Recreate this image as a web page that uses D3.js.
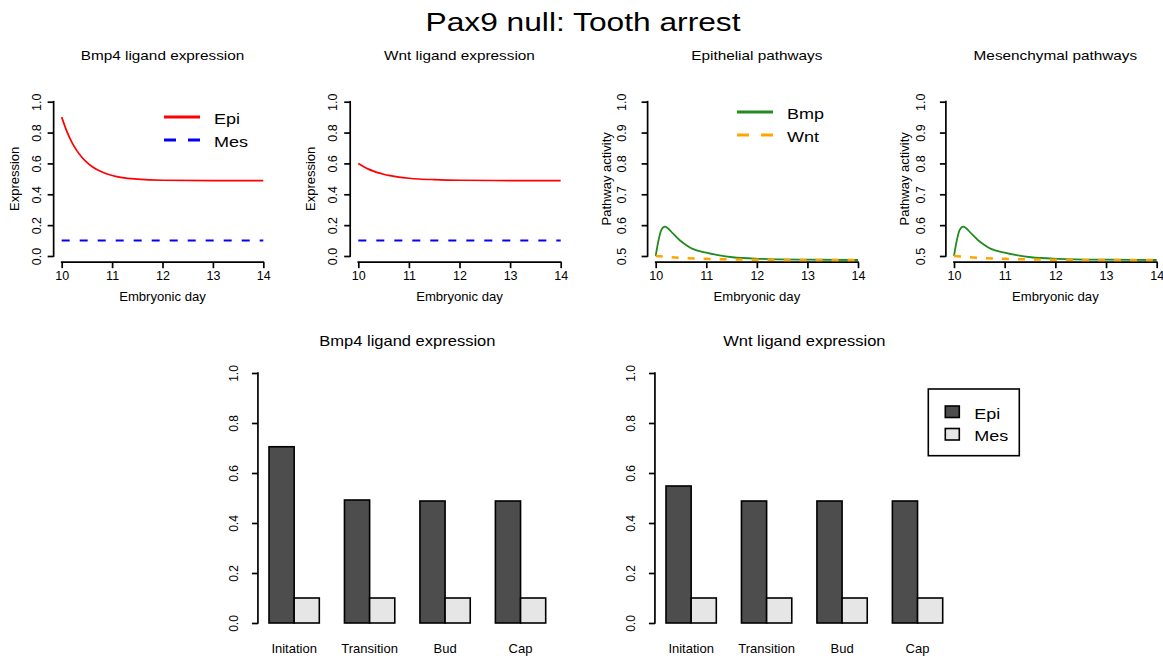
<!DOCTYPE html>
<html>
<head>
<meta charset="utf-8">
<script src="https://cdn.jsdelivr.net/npm/d3@7"></script>
<style>
  body { margin: 0; background: #fff; }
  svg { display: block; }
  text { font-family: "Liberation Sans", Arial, Helvetica, sans-serif; fill: #000; }
</style>
</head>
<body>
<svg id="fig" width="1163" height="658"></svg>
<script>
// ---- Ligand expression over embryonic days ----
const ligandDays   = [10, 10.1, 10.2, 10.3, 10.4, 10.5, 10.6, 10.8, 11, 11.2, 11.5, 12, 13, 14];
const bmp4EpiExpr  = [0.900, 0.809, 0.738, 0.683, 0.640, 0.606, 0.580, 0.544, 0.522, 0.508, 0.498, 0.491, 0.489, 0.489];
const wntEpiExpr   = [0.600, 0.580, 0.563, 0.550, 0.539, 0.530, 0.522, 0.511, 0.504, 0.499, 0.495, 0.491, 0.489, 0.489];
const mesExprDays  = [10, 14];
const bmp4MesExpr  = [0.1, 0.1];
const wntMesExpr   = [0.1, 0.1];

// ---- Pathway activity ----
const bmpPathDays    = [10, 10.05, 10.11, 10.18, 10.24, 10.34, 10.47, 10.6, 10.73, 11, 11.26, 11.52, 12.05, 13, 14];
const epiBmpActivity = [0.500, 0.546, 0.584, 0.595, 0.590, 0.573, 0.552, 0.536, 0.523, 0.511, 0.502, 0.496, 0.491, 0.488, 0.487];
const mesBmpActivity = [0.500, 0.546, 0.584, 0.595, 0.590, 0.573, 0.552, 0.536, 0.523, 0.511, 0.502, 0.496, 0.491, 0.488, 0.487];
const wntPathDays    = [10, 10.5, 11, 11.5, 12, 13, 14];
const epiWntActivity = [0.500, 0.494, 0.491, 0.489, 0.488, 0.487, 0.487];
const mesWntActivity = [0.500, 0.494, 0.491, 0.489, 0.488, 0.487, 0.487];

// ---- Mean expression per developmental stage ----
const stages       = ["Initation", "Transition", "Bud", "Cap"];
const bmp4EpiStage = [0.705, 0.492, 0.488, 0.488];
const bmp4MesStage = [0.1, 0.1, 0.1, 0.1];
const wntEpiStage  = [0.548, 0.488, 0.488, 0.488];
const wntMesStage  = [0.1, 0.1, 0.1, 0.1];

// ---- Ticks ----
const dayTicks      = [10, 11, 12, 13, 14];
const exprTicks     = [0, 0.2, 0.4, 0.6, 0.8, 1.0];
const activityTicks = [0.5, 0.6, 0.7, 0.8, 0.9, 1.0];

const RED = "#ff0000", BLUE = "#0000ff", GREEN = "#228b22", ORANGE = "#ffa500";
const EPI_FILL = "#4d4d4d", MES_FILL = "#e6e6e6";
const AXIS_W = 1.7;

const svg = d3.select("#fig");

function hText(g, x, y, txt, size, sx, anchor) {
  return g.append("text")
    .attr("transform", `translate(${x},${y}) scale(${sx},1)`)
    .attr("text-anchor", anchor || "middle")
    .style("font-size", size + "px")
    .text(txt);
}

function zip(xs, ys) { return xs.map((d, i) => [d, ys[i]]); }

hText(svg, 583, 31, "Pax9 null: Tooth arrest", 26, 1.22);

// Time-course panel
function linePanel(p) {
  const g = svg.append("g");
  const x = d3.scaleLinear().domain([10, 14]).range([p.x10, p.x14]);
  const y = d3.scaleLinear().domain(p.yDomain).range([256, 101.7]);
  const [y0, y1] = p.yDomain;
  const pad = 0.04 * (y1 - y0);
  const left = x(10 - 0.16), right = x(14 + 0.16);
  const bottom = y(y0 - pad);

  // y axis
  const ya = g.append("g").attr("transform", `translate(${left},0)`)
    .call(d3.axisLeft(y).tickValues(p.yTicks).tickSize(6).tickSizeOuter(0).tickFormat(d3.format(".1f")));
  ya.select(".domain").remove();
  ya.selectAll(".tick line").attr("stroke", "#000").attr("stroke-width", AXIS_W);
  ya.selectAll(".tick text")
    .attr("transform", "rotate(-90)")
    .attr("x", 0).attr("dy", null)
    .attr("y", -p.yLabOff)
    .attr("text-anchor", "middle")
    .style("font-size", "12.5px").style("font-family", null);
  ya.append("line").attr("x1", 0).attr("x2", 0)
    .attr("y1", y(p.yTicks[0])).attr("y2", y(p.yTicks[p.yTicks.length - 1]))
    .attr("stroke", "#000").attr("stroke-width", AXIS_W).attr("stroke-linecap", "square");

  // x axis
  const xa = g.append("g").attr("transform", `translate(0,${bottom})`)
    .call(d3.axisBottom(x).tickValues(dayTicks).tickSize(6).tickSizeOuter(0).tickFormat(d3.format("d")));
  xa.select(".domain").remove();
  xa.selectAll(".tick line").attr("stroke", "#000").attr("stroke-width", AXIS_W);
  xa.selectAll(".tick text").attr("dy", null).attr("y", 18)
    .style("font-size", "12.5px").style("font-family", null);
  xa.append("line").attr("x1", x(10)).attr("x2", x(14)).attr("y1", 0).attr("y2", 0)
    .attr("stroke", "#000").attr("stroke-width", AXIS_W).attr("stroke-linecap", "square");

  const cx = (left + right) / 2;
  hText(g, cx, 60, p.title, 13, 1.18);
  hText(g, cx, 301, "Embryonic day", 12.5, 1.05);
  g.append("text")
    .attr("transform", `translate(${left - p.yTitleOff},${(y(y0) + y(y1)) / 2}) rotate(-90)`)
    .attr("text-anchor", "middle").style("font-size", "13px").text(p.yTitle);

  const line = d3.line().x(d => x(d[0])).y(d => y(d[1])).curve(d3.curveMonotoneX);
  p.series.forEach(s => {
    g.append("path").datum(zip(s.days, s.values))
      .attr("d", line).attr("fill", "none")
      .attr("stroke", s.color).attr("stroke-width", s.width)
      .attr("stroke-dasharray", s.dash || null);
  });

  if (p.legend) {
    const L = p.legend;
    p.series.forEach((s, i) => {
      const ly = L.y + i * L.step;
      g.append("line").attr("x1", L.x).attr("x2", L.x + 36).attr("y1", ly).attr("y2", ly)
        .attr("stroke", s.color).attr("stroke-width", 3)
        .attr("stroke-dasharray", s.dash ? "12,12" : null);
      hText(g, L.x + 50, ly + 6.5, s.name, 15, 1.2, "start");
    });
  }
}

linePanel({
  title: "Bmp4 ligand expression", yTitle: "Expression",
  x10: 61.7, x14: 263.3, yDomain: [0, 1], yTicks: exprTicks, yLabOff: 12.5, yTitleOff: 35,
  series: [
    { name: "Epi", days: ligandDays, values: bmp4EpiExpr, color: RED, width: 1.7 },
    { name: "Mes", days: mesExprDays, values: bmp4MesExpr, color: BLUE, width: 2, dash: "8,10" }
  ],
  legend: { x: 164, y: 117, step: 23 }
});

linePanel({
  title: "Wnt ligand expression", yTitle: "Expression",
  x10: 358.3, x14: 560.7, yDomain: [0, 1], yTicks: exprTicks, yLabOff: 13.5, yTitleOff: 35,
  series: [
    { name: "Epi", days: ligandDays, values: wntEpiExpr, color: RED, width: 1.7 },
    { name: "Mes", days: mesExprDays, values: wntMesExpr, color: BLUE, width: 2, dash: "8,10" }
  ]
});

linePanel({
  title: "Epithelial pathways", yTitle: "Pathway activity",
  x10: 655.7, x14: 858, yDomain: [0.5, 1], yTicks: activityTicks, yLabOff: 22, yTitleOff: 37,
  series: [
    { name: "Bmp", days: bmpPathDays, values: epiBmpActivity, color: GREEN, width: 1.8 },
    { name: "Wnt", days: wntPathDays, values: epiWntActivity, color: ORANGE, width: 2.5, dash: "7,9" }
  ],
  legend: { x: 737, y: 112, step: 23 }
});

linePanel({
  title: "Mesenchymal pathways", yTitle: "Pathway activity",
  x10: 954, x14: 1156.7, yDomain: [0.5, 1], yTicks: activityTicks, yLabOff: 21, yTitleOff: 37,
  series: [
    { name: "Bmp", days: bmpPathDays, values: mesBmpActivity, color: GREEN, width: 1.8 },
    { name: "Wnt", days: wntPathDays, values: mesWntActivity, color: ORANGE, width: 2.5, dash: "7,9" }
  ]
});

// Grouped bar panel (bar units: each stage = Epi bar, Mes bar, one gap)
function barPanel(p) {
  const g = svg.append("g");
  const x = d3.scaleLinear().domain([1, 12]).range([p.xStart, p.xEnd]);
  const y = d3.scaleLinear().domain([0, 1]).range([623, 373]);
  const left = x(0.56), right = x(12.44);

  const ya = g.append("g").attr("transform", `translate(${left},0)`)
    .call(d3.axisLeft(y).tickValues(exprTicks).tickSize(6).tickSizeOuter(0).tickFormat(d3.format(".1f")));
  ya.select(".domain").remove();
  ya.selectAll(".tick line").attr("stroke", "#000").attr("stroke-width", AXIS_W);
  ya.selectAll(".tick text")
    .attr("transform", "rotate(-90)")
    .attr("x", 0).attr("dy", null).attr("y", -19.5)
    .attr("text-anchor", "middle")
    .style("font-size", "12px").style("font-family", null);
  ya.append("line").attr("x1", 0).attr("x2", 0).attr("y1", y(0)).attr("y2", y(1))
    .attr("stroke", "#000").attr("stroke-width", AXIS_W).attr("stroke-linecap", "square");

  hText(g, (left + right) / 2, 346, p.title, 14, 1.18);

  const groups = stages.map((s, i) => ({ stage: s, i, epi: p.epi[i], mes: p.mes[i] }));
  groups.forEach(d => {
    const u = 1 + 3 * d.i;
    g.append("rect").attr("x", x(u)).attr("width", x(u + 1) - x(u))
      .attr("y", y(d.epi)).attr("height", y(0) - y(d.epi))
      .attr("fill", EPI_FILL).attr("stroke", "#000").attr("stroke-width", 1.6);
    g.append("rect").attr("x", x(u + 1)).attr("width", x(u + 2) - x(u + 1))
      .attr("y", y(d.mes)).attr("height", y(0) - y(d.mes))
      .attr("fill", MES_FILL).attr("stroke", "#000").attr("stroke-width", 1.6);
    g.append("text").attr("x", x(u + 1)).attr("y", 653)
      .attr("text-anchor", "middle").style("font-size", "13px").text(d.stage);
  });

  if (p.legend) {
    const L = p.legend;
    g.append("rect").attr("x", L.x).attr("y", L.y).attr("width", 91).attr("height", 66.7)
      .attr("fill", "#fff").attr("stroke", "#000").attr("stroke-width", 1.6);
    [["Epi", EPI_FILL], ["Mes", MES_FILL]].forEach(([name, fill], i) => {
      const ry = L.y + 17 + i * 22.5;
      g.append("rect").attr("x", L.x + 17).attr("y", ry).attr("width", 14).attr("height", 11.5)
        .attr("fill", fill).attr("stroke", "#000").attr("stroke-width", 1.6);
      hText(g, L.x + 46, ry + 12.5, name, 15, 1.2, "start");
    });
  }
}

barPanel({ title: "Bmp4 ligand expression", xStart: 269, xEnd: 545.7, epi: bmp4EpiStage, mes: bmp4MesStage });
barPanel({ title: "Wnt ligand expression", xStart: 666, xEnd: 942.7, epi: wntEpiStage, mes: wntMesStage,
           legend: { x: 928.3, y: 389 } });
</script>
</body>
</html>
